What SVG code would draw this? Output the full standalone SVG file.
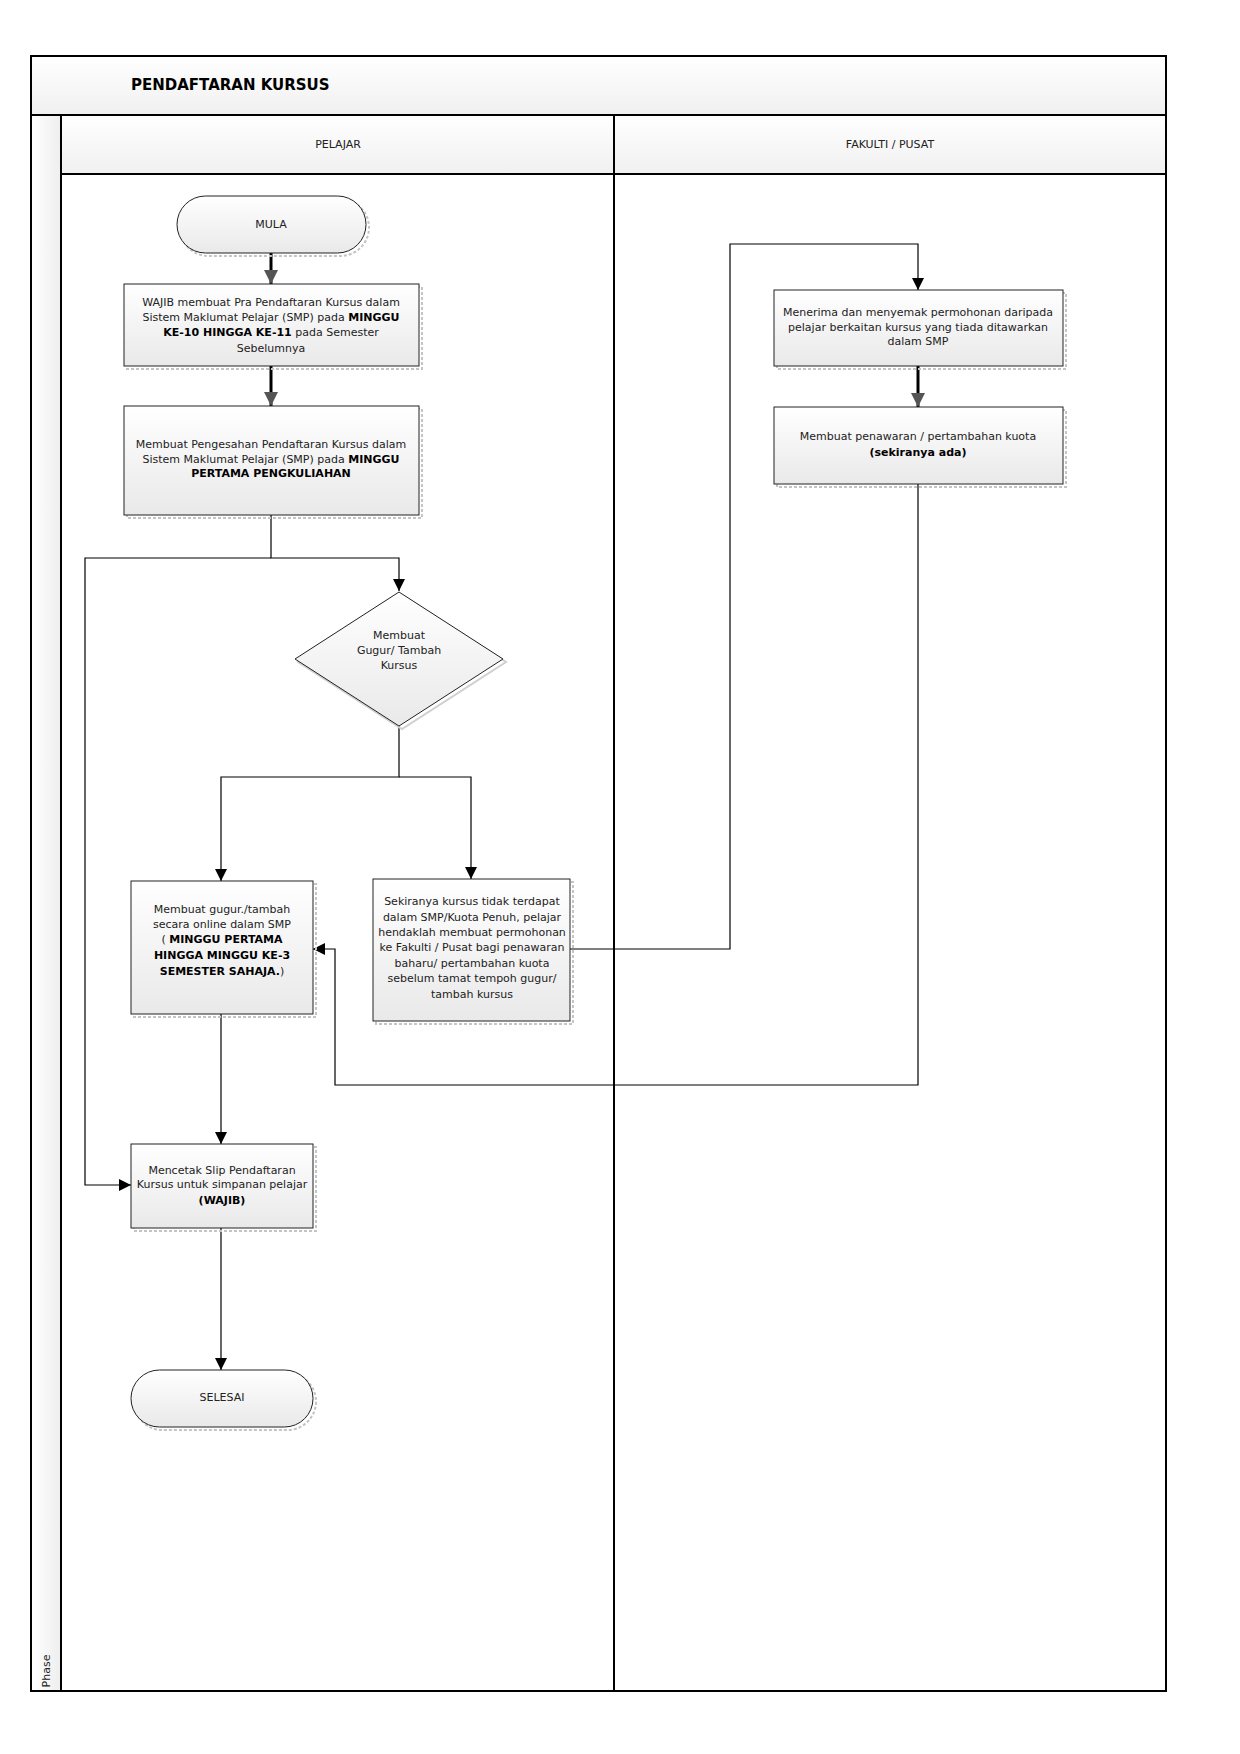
<svg xmlns="http://www.w3.org/2000/svg" width="1240" height="1754" viewBox="0 0 1240 1754">
<defs>
<linearGradient id="gBox" x1="0" y1="0" x2="0" y2="1">
<stop offset="0" stop-color="#ffffff"/>
<stop offset="1" stop-color="#e9e9e9"/>
</linearGradient>
<linearGradient id="gHead" x1="0" y1="0" x2="0" y2="1">
<stop offset="0" stop-color="#ffffff"/>
<stop offset="1" stop-color="#f0f0f0"/>
</linearGradient>
<linearGradient id="gPhase" x1="0" y1="0" x2="1" y2="0">
<stop offset="0" stop-color="#ffffff"/>
<stop offset="1" stop-color="#eeeeee"/>
</linearGradient>
<marker id="aThin" markerUnits="userSpaceOnUse" markerWidth="12" markerHeight="12" viewBox="0 0 10 10" refX="10" refY="5" orient="auto">
<path d="M0,0 L10,5 L0,10 z" fill="#000"/>
</marker>
<marker id="aThick" markerUnits="userSpaceOnUse" markerWidth="14" markerHeight="14" viewBox="0 0 10 10" refX="10" refY="5" orient="auto">
<path d="M0,0 L10,5 L0,10 z" fill="#555"/>
</marker>
<style>
.lane{fill:none;stroke:#000;stroke-width:2}
.box{fill:url(#gBox);stroke:#222;stroke-width:1}
.shadow{fill:none;stroke:#c4c4c4;stroke-width:2;stroke-dasharray:3 2}
.t{font-family:"DejaVu Sans","Liberation Sans",sans-serif;font-size:11px;fill:#222;text-anchor:middle}
.b{font-weight:bold;fill:#000}
.thin{fill:none;stroke:#000;stroke-width:1.2;marker-end:url(#aThin)}
.plain{fill:none;stroke:#000;stroke-width:1.2}
.thick{fill:none;stroke:#000;stroke-width:3;marker-end:url(#aThick)}
</style>
</defs>
<rect width="1240" height="1754" fill="#fff"/>

<g id="pool">
<rect x="31" y="56" width="1135" height="59" fill="url(#gHead)"/>
<rect x="61" y="115" width="1105" height="59" fill="url(#gHead)"/>
<rect x="31" y="115" width="30" height="1576" fill="url(#gPhase)"/>
<rect class="lane" x="31" y="56" width="1135" height="1635"/>
<line class="lane" x1="31" y1="115" x2="1166" y2="115"/>
<line class="lane" x1="61" y1="115" x2="61" y2="1691"/>
<line class="lane" x1="61" y1="174" x2="1166" y2="174"/>
<line class="lane" x1="614" y1="115" x2="614" y2="1691"/>
<text x="131" y="90" font-family="DejaVu Sans,Liberation Sans,sans-serif" font-size="15" font-weight="bold" fill="#000">PENDAFTARAN KURSUS</text>
<text class="t" x="338" y="148">PELAJAR</text>
<text class="t" x="890" y="148">FAKULTI / PUSAT</text>
<text class="t" x="0" y="0" font-size="10" transform="translate(50,1671) rotate(-90)">Phase</text>
</g>

<g id="connectors">
<path class="thick" d="M271 253 V284"/>
<path class="thick" d="M271 366 V406"/>
<path class="thin" d="M271 515 V558 H399 V591"/>
<path class="thin" d="M271 558 H85 V1185 H131"/>
<path class="thin" d="M399 726 V777 H221 V881"/>
<path class="thin" d="M399 777 H471 V879"/>
<path class="thin" d="M570 949 H730 V244 H918 V290"/>
<path class="thick" d="M918 366 V407"/>
<path class="thin" d="M918 484 V1085 H335 V949 H313"/>
<path class="thin" d="M221 1014 V1144"/>
<path class="thin" d="M221 1228 V1370"/>
</g>

<g id="mula">
<rect class="shadow" x="180" y="199" width="189" height="57" rx="28.5"/>
<rect class="box" x="177" y="196" width="189" height="57" rx="28.5"/>
<text class="t" x="271" y="228">MULA</text>
</g>

<g id="pra">
<rect class="shadow" x="127" y="287" width="295" height="82"/>
<rect class="box" x="124" y="284" width="295" height="82"/>
<text class="t" x="271" y="306">WAJIB membuat Pra Pendaftaran Kursus dalam</text>
<text class="t" x="271" y="321">Sistem Maklumat Pelajar (SMP) pada <tspan class="b">MINGGU</tspan></text>
<text class="t" x="271" y="336"><tspan class="b">KE-10 HINGGA KE-11</tspan> pada Semester</text>
<text class="t" x="271" y="352">Sebelumnya</text>
</g>

<g id="pengesahan">
<rect class="shadow" x="127" y="409" width="295" height="109"/>
<rect class="box" x="124" y="406" width="295" height="109"/>
<text class="t" x="271" y="448">Membuat Pengesahan Pendaftaran Kursus dalam</text>
<text class="t" x="271" y="463">Sistem Maklumat Pelajar (SMP)  pada <tspan class="b">MINGGU</tspan></text>
<text class="t" x="271" y="477"><tspan class="b">PERTAMA PENGKULIAHAN</tspan></text>
</g>

<g id="keputusan">
<polygon points="402,595 506,662 402,729 298,662" fill="none" stroke="#d0d0d0" stroke-width="2"/>
<polygon points="399,592 503,659 399,726 295,659" fill="url(#gBox)" stroke="#222" stroke-width="1"/>
<text class="t" x="399" y="639">Membuat</text>
<text class="t" x="399" y="654">Gugur/ Tambah</text>
<text class="t" x="399" y="669">Kursus</text>
</g>

<g id="gugur">
<rect class="shadow" x="134" y="884" width="182" height="133"/>
<rect class="box" x="131" y="881" width="182" height="133"/>
<text class="t" x="222" y="913">Membuat gugur./tambah</text>
<text class="t" x="222" y="928">secara online dalam SMP</text>
<text class="t" x="222" y="943">( <tspan class="b">MINGGU PERTAMA</tspan></text>
<text class="t b" x="222" y="959">HINGGA MINGGU KE-3</text>
<text class="t" x="222" y="975"><tspan class="b">SEMESTER SAHAJA.</tspan>)</text>
</g>

<g id="sekiranya">
<rect class="shadow" x="376" y="882" width="197" height="142"/>
<rect class="box" x="373" y="879" width="197" height="142"/>
<text class="t" x="472" y="905">Sekiranya kursus tidak terdapat</text>
<text class="t" x="472" y="921">dalam SMP/Kuota Penuh, pelajar</text>
<text class="t" x="472" y="936">hendaklah membuat permohonan</text>
<text class="t" x="472" y="951">ke Fakulti / Pusat bagi penawaran</text>
<text class="t" x="472" y="967">baharu/ pertambahan kuota</text>
<text class="t" x="472" y="982">sebelum tamat tempoh gugur/</text>
<text class="t" x="472" y="998">tambah kursus</text>
</g>

<g id="mencetak">
<rect class="shadow" x="134" y="1147" width="182" height="84"/>
<rect class="box" x="131" y="1144" width="182" height="84"/>
<text class="t" x="222" y="1174">Mencetak Slip Pendaftaran</text>
<text class="t" x="222" y="1188">Kursus untuk simpanan pelajar</text>
<text class="t b" x="222" y="1204">(WAJIB)</text>
</g>

<g id="selesai">
<rect class="shadow" x="134" y="1373" width="182" height="57" rx="28.5"/>
<rect class="box" x="131" y="1370" width="182" height="57" rx="28.5"/>
<text class="t" x="222" y="1401">SELESAI</text>
</g>

<g id="menerima">
<rect class="shadow" x="777" y="293" width="289" height="76"/>
<rect class="box" x="774" y="290" width="289" height="76"/>
<text class="t" x="918" y="316">Menerima dan menyemak permohonan daripada</text>
<text class="t" x="918" y="331">pelajar berkaitan kursus yang tiada ditawarkan</text>
<text class="t" x="918" y="345">dalam SMP</text>
</g>

<g id="penawaran">
<rect class="shadow" x="777" y="410" width="289" height="77"/>
<rect class="box" x="774" y="407" width="289" height="77"/>
<text class="t" x="918" y="440">Membuat penawaran / pertambahan kuota</text>
<text class="t b" x="918" y="456">(sekiranya ada)</text>
</g>
</svg>
